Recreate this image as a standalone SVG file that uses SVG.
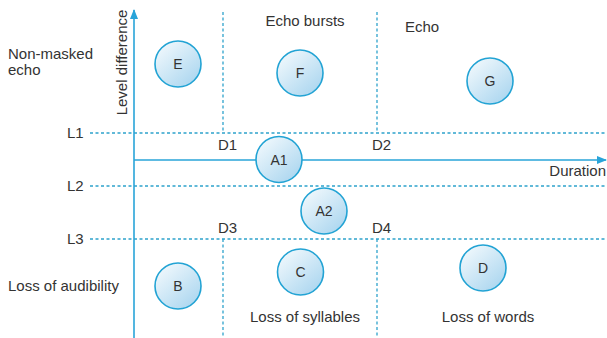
<svg xmlns="http://www.w3.org/2000/svg" width="607" height="338" viewBox="0 0 607 338">
<style>
text{font-family:"Liberation Sans",Arial,sans-serif;font-size:15px;fill:#333}
.n text{font-size:14px;text-anchor:middle}
.c{fill:url(#g);stroke:#22a3d4;stroke-width:1.6}
.dash{stroke:#2ea3cc;stroke-width:1.3;stroke-dasharray:3 2.5;fill:none}
.ax{stroke:#29a4d9;stroke-width:1.6;fill:none}
</style>
<defs>
<linearGradient id="g" x1="0.15" y1="0.1" x2="0.9" y2="0.95">
<stop offset="0" stop-color="#eef7fc"/>
<stop offset="1" stop-color="#a9d5ef"/>
</linearGradient>
<marker id="ah" markerWidth="10" markerHeight="8" refX="9" refY="4" orient="auto" markerUnits="userSpaceOnUse">
<path d="M0,0 L10,4 L0,8 Z" fill="#29a4d9"/>
</marker>
</defs>
<rect width="607" height="338" fill="#fff"/>
<g id="connectors">
<line class="dash" x1="90" y1="133" x2="607" y2="133"/>
<line class="dash" x1="90" y1="186" x2="607" y2="186"/>
<line class="dash" x1="90" y1="239" x2="607" y2="239"/>
<line class="dash" x1="223" y1="12" x2="223" y2="133"/>
<line class="dash" x1="377" y1="12" x2="377" y2="133"/>
<line class="dash" x1="223" y1="239" x2="223" y2="338"/>
<line class="dash" x1="377" y1="239" x2="377" y2="338"/>
<line class="ax" x1="134" y1="338" x2="134" y2="10" marker-end="url(#ah)"/>
<line class="ax" x1="134" y1="160" x2="606" y2="160" marker-end="url(#ah)"/>
</g>
<g id="labels">
<text x="8" y="59">Non-masked</text>
<text x="8" y="75">echo</text>
<text transform="translate(127,62.5) rotate(-90)" text-anchor="middle">Level difference</text>
<text x="305" y="25.5" text-anchor="middle">Echo bursts</text>
<text x="405" y="31.5">Echo</text>
<text x="67" y="137.5">L1</text>
<text x="67" y="190.5">L2</text>
<text x="67" y="243.5">L3</text>
<text x="218" y="149.5">D1</text>
<text x="372" y="149.5">D2</text>
<text x="218" y="232.5">D3</text>
<text x="372" y="232.5">D4</text>
<text x="606" y="176" text-anchor="end">Duration</text>
<text x="8" y="290.5">Loss of audibility</text>
<text x="305" y="321.5" text-anchor="middle">Loss of syllables</text>
<text x="488" y="321.5" text-anchor="middle">Loss of words</text>
</g>
<g id="E" class="n"><circle class="c" cx="178" cy="64" r="23"/><text x="178" y="69">E</text></g>
<g id="F" class="n"><circle class="c" cx="300" cy="73" r="23"/><text x="300" y="78">F</text></g>
<g id="G" class="n"><circle class="c" cx="490" cy="81" r="23"/><text x="490" y="86">G</text></g>
<g id="A1" class="n"><circle class="c" cx="279" cy="159.5" r="23"/><text x="279" y="164.5">A1</text></g>
<g id="A2" class="n"><circle class="c" cx="324" cy="211" r="23"/><text x="324" y="216">A2</text></g>
<g id="B" class="n"><circle class="c" cx="178" cy="286" r="23"/><text x="178" y="291">B</text></g>
<g id="C" class="n"><circle class="c" cx="300.5" cy="272" r="23"/><text x="300.5" y="277">C</text></g>
<g id="D" class="n"><circle class="c" cx="483" cy="268" r="23"/><text x="483" y="273">D</text></g>
</svg>
